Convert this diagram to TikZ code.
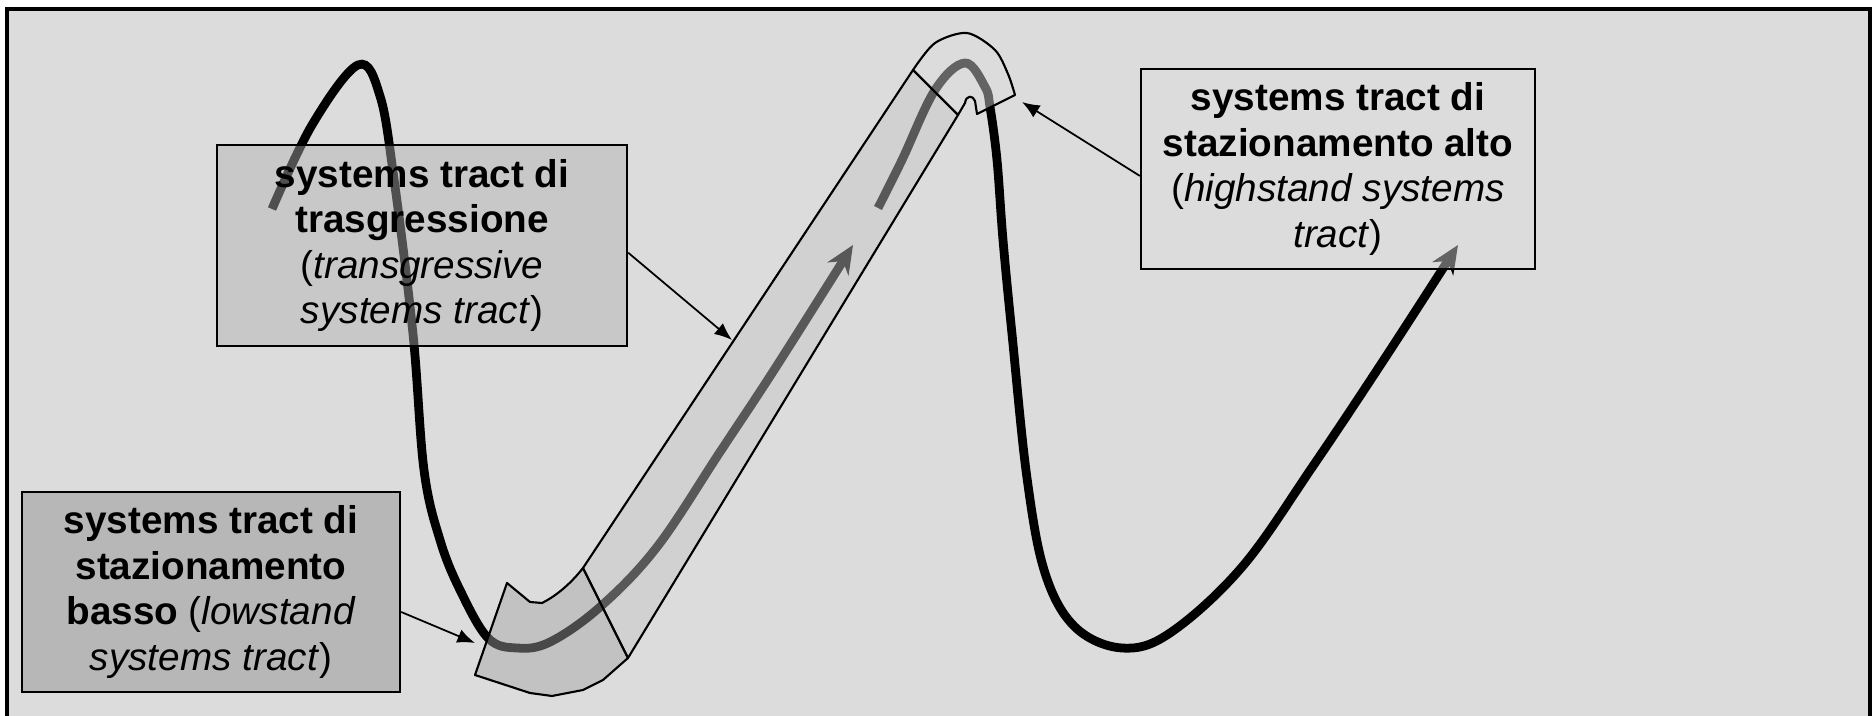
\documentclass[tikz,border=0pt]{standalone}
\usepackage{fontspec}
\setmainfont{Liberation Sans}
\usetikzlibrary{arrows.meta,positioning,calc}
\definecolor{sheet}{HTML}{DCDCDC}
\definecolor{lowfill}{HTML}{8C8C8C}
\definecolor{trasgfill}{HTML}{B0B0B0}
\definecolor{hstfill}{HTML}{DCDCDC}
\definecolor{bandfill}{HTML}{C4C4C4}
\definecolor{elbowfill}{HTML}{A4A4A4}
\definecolor{capfill}{HTML}{DCDCDC}

\begin{document}
\begin{tikzpicture}[x=0.01cm,y=-0.01cm,>=Latex,
 tractbox/.style={draw,line width=0.6pt,fill opacity=0.45,text opacity=1,align=center,inner sep=0pt,font=\fontsize{11}{12.9}\selectfont},
 trend/.style={line width=2.5pt},
 pointer/.style={->,>={Latex[length=5pt,width=4pt]},line width=0.5pt},
 tube/.style={draw,line width=0.6pt,fill opacity=0.45,line join=round}]
 \useasboundingbox (0,0) rectangle (1872,716);
 \fill[sheet] (7,9) rectangle (1872,716);
 \draw[line width=1pt] (7,716) |- (1870,9) -- (1870,716);

 \draw[trend,-{Stealth[length=8pt,width=7pt]}] plot[smooth,tension=0.6] coordinates {(272,209) (312,125) (358,65) (380,96) (394,179) (413,334) (424,470) (440,540) (460,590) (488,638) (517,648) (550,642) (600,607) (657,547) (720,452) (776,367) (853,245)};
 \draw[trend,-{Stealth[length=8pt,width=7pt]}] plot[smooth,tension=0.6] coordinates {(878,208) (902,160) (935,90) (965,63) (985,87) (990,107) (997,160) (1003,240) (1012,334) (1027,478) (1045,573) (1075,627) (1122,648) (1170,633) (1242,567) (1313,466) (1385,358) (1458,245)};

 \path[tube,fill=elbowfill] (475,675) -- (507,583) -- (530,602) -- (542,603) .. controls (558,595) and (572,582) .. (583,568) -- (628,658) -- (603,680) -- (583,690) -- (552,696) -- (530,693) -- cycle;
 \path[tube,fill=bandfill] (583,568) -- (913,70) -- (958,115) -- (628,658) -- cycle;
 \path[tube,fill=capfill] plot[smooth] coordinates {(913,70) (935,43) (967,33) (995,50) (1008,74) (1015,95)} -- (977,114) -- (975,101) .. controls (973,95) and (966,95) .. (965,103) -- (958,115) -- cycle;

 \node[tractbox,fill=trasgfill,minimum width=4.1cm,minimum height=2.01cm] (trasg) at (422,245.5) {\textbf{systems tract di}\\\textbf{trasgressione}\\(\textit{transgressive}\\\textit{systems tract})};
 \node[tractbox,fill=lowfill,minimum width=3.78cm,minimum height=2.0cm] (low) at (211,592) {\textbf{systems tract di}\\\textbf{stazionamento}\\\textbf{basso} (\textit{lowstand}\\\textit{systems tract})};
 \node[tractbox,fill=hstfill,minimum width=3.94cm,minimum height=2.0cm] (hst) at (1338,169) {\textbf{systems tract di}\\\textbf{stazionamento alto}\\(\textit{highstand systems}\\\textit{tract})};

 \coordinate (trasgtip) at (732,340);
 \coordinate (lowtip) at (475,643);
 \coordinate (hsttip) at (1022,102);
 \draw[pointer] (trasg.-2) -- (trasgtip);
 \draw[pointer] (low.-6) -- (lowtip);
 \draw[pointer] (hst.182) -- (hsttip);
\end{tikzpicture}
\end{document}
